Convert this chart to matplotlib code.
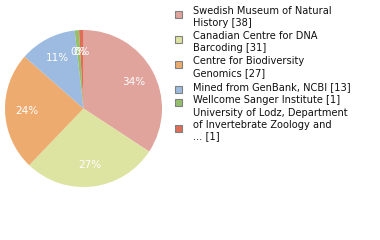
import math
import matplotlib
matplotlib.use("Agg")
import matplotlib.pyplot as plt
from matplotlib.patches import Rectangle

labels = [
    "Swedish Museum of Natural\nHistory [38]",
    "Canadian Centre for DNA\nBarcoding [31]",
    "Centre for Biodiversity\nGenomics [27]",
    "Mined from GenBank, NCBI [13]",
    "Wellcome Sanger Institute [1]",
    "University of Lodz, Department\nof Invertebrate Zoology and\n... [1]",
]
counts = [38, 31, 27, 13, 1, 1]
colors = ["#e0a49c", "#dde3a0", "#eeab6f", "#9dbbe0", "#94c06a", "#de6e55"]

total = sum(counts)
pcts = [f"{math.floor(c * 100 / total)}%" for c in counts]

fig = plt.figure(figsize=(3.8, 2.4), dpi=100)
ax = fig.add_axes([5 / 380, 1 - 187 / 240, 157 / 380, 157 / 240])
wedges, _ = ax.pie(counts, colors=colors, startangle=90, counterclock=False,
                   wedgeprops=dict(linewidth=0))
ax.set_xlim(-1, 1)
ax.set_ylim(-1, 1)
ax.set_aspect("equal")
ax.axis("off")

angle = 90.0
for c, p in zip(counts, pcts):
    sweep = 360.0 * c / total
    mid = math.radians(angle - sweep / 2)
    ax.text(0.72 * math.cos(mid), 0.72 * math.sin(mid), p, color="white",
            ha="center", va="center", fontsize=7.5, fontfamily="DejaVu Sans")
    angle -= sweep

# legend drawn by hand
box_y = [14.5, 39.5, 64.5, 89, 102, 128]
text_y = [6, 31, 56, 82, 95, 108]
for lab, col, by, ty in zip(labels, colors, box_y, text_y):
    fig.patches.append(Rectangle((175 / 380, 1 - (by + 3.5) / 240), 7 / 380, 7 / 240,
                                 transform=fig.transFigure, facecolor=col,
                                 edgecolor="#808080", linewidth=0.8))
    fig.text(193 / 380, 1 - ty / 240, lab, fontsize=7.1, va="top", ha="left",
             color="#111111", linespacing=1.2, fontfamily="DejaVu Sans")

fig.savefig("out.png", dpi=100)
